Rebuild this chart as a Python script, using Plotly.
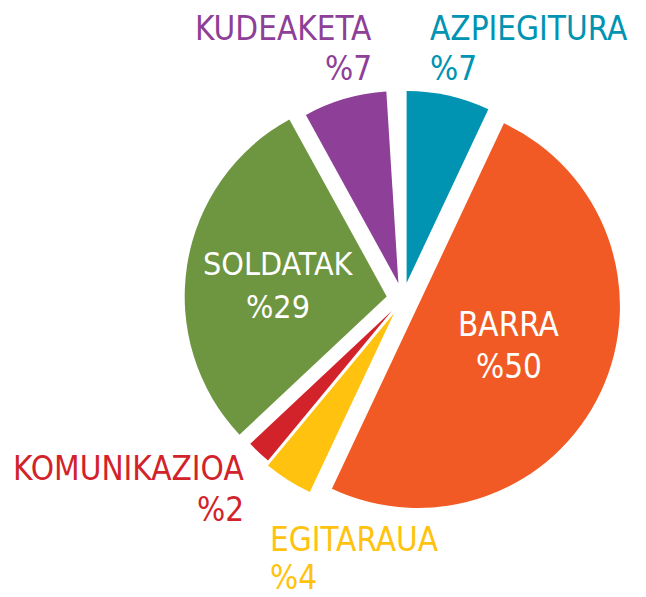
import plotly.graph_objects as go

# ---- data ----
labels = ["AZPIEGITURA", "BARRA", "EGITARAUA", "KOMUNIKAZIOA", "SOLDATAK", "KUDEAKETA", "rest"]
values = [7, 50, 4, 2, 29, 7, 1]
pct_labels = ["%7", "%50", "%4", "%2", "%29", "%7", ""]

# ---- style ----
colors = ["#0093B2", "#F15A24", "#FFC20E", "#D2232A", "#6E9540", "#8E3F97", "rgba(0,0,0,0)"]
W, H = 646, 597
cx, cy = 403, 299
pull_px = 16.5
radii = [192, 202, 198, 194, 202, 192]
FONT = "Liberation Sans Narrow, Arial Narrow, DejaVu Sans Condensed, Roboto Condensed, sans-serif"

fig = go.Figure()
for i, r in enumerate(radii):
    f = pull_px / r
    D = 2 * r * (1 + f)
    cols = ["rgba(0,0,0,0)"] * len(values)
    cols[i] = colors[i]
    fig.add_trace(go.Pie(
        labels=labels, values=values, sort=False, direction="clockwise", rotation=0,
        pull=[f] * len(values),
        marker=dict(colors=cols, line=dict(width=0)),
        textinfo="none", hoverinfo="skip", showlegend=False,
        domain=dict(x=[(cx - D / 2) / W, (cx + D / 2) / W],
                    y=[1 - (cy + D / 2) / H, 1 - (cy - D / 2) / H]),
    ))

# label placement: (x, y_name, y_pct, anchor, font size, inside?)
placement = {
    0: (428, 28.5, 69, "left", 33, False),
    1: (509, 324.5, 366, "center", 33, True),
    2: (268, 539, 577, "left", 33, False),
    3: (246, 468.5, 509, "right", 33, False),
    4: (278, 264, 307, "center", 32, True),
    5: (374, 28.5, 69, "right", 33, False),
}
annotations = []
for i, (x, yn, yp, anc, size, inside) in placement.items():
    col = "white" if inside else colors[i]
    for txt, yy in ((labels[i], yn), (pct_labels[i], yp)):
        annotations.append(dict(
            text=txt, x=x / W, y=1 - yy / H, xref="paper", yref="paper",
            xanchor=anc, yanchor="middle", showarrow=False,
            font=dict(family=FONT, size=size, color=col)))

fig.update_layout(
    width=W, height=H, margin=dict(l=0, r=0, t=0, b=0),
    paper_bgcolor="white", plot_bgcolor="white",
    annotations=annotations,
)
fig.write_html("out.html", config={"displayModeBar": False},
               post_script="document.body.style.margin='0px';")
